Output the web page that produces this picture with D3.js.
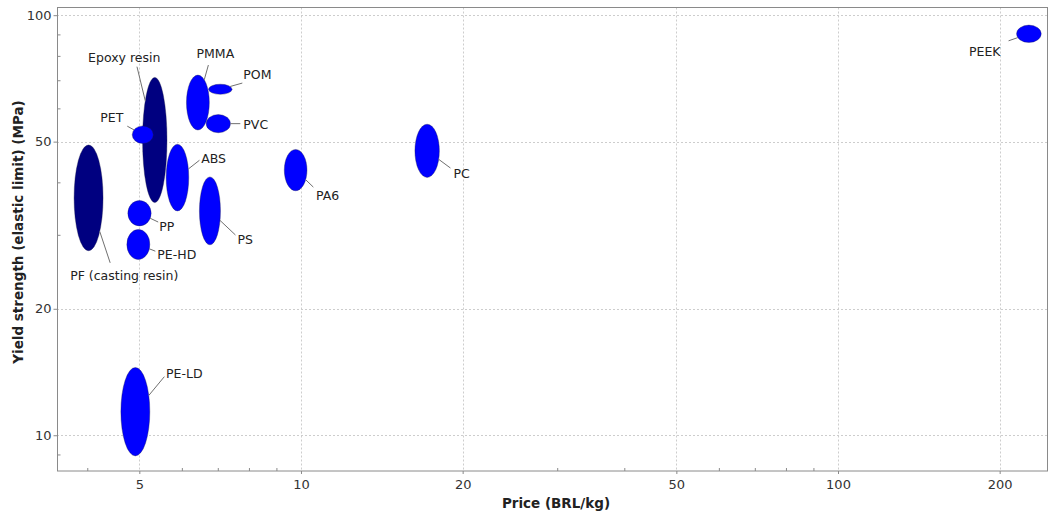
<!DOCTYPE html>
<html>
<head>
<meta charset="utf-8">
<script src="https://cdn.jsdelivr.net/npm/d3@7"></script>
<style>
  body { margin: 0; background: #fff; }
  svg { display: block; font-family: "DejaVu Sans", Verdana, sans-serif; }
</style>
</head>
<body>
<div id="chart"></div>
<script>
// Materials and their property ranges (price in BRL/kg, yield strength in MPa)
const materials = ["PF (casting resin)", "Epoxy resin", "PET", "ABS", "PMMA", "POM", "PVC",
                   "PS", "PP", "PE-HD", "PA6", "PC", "PE-LD", "PEEK"];
const families = ["thermoset", "thermoset", "thermoplastic", "thermoplastic", "thermoplastic",
                  "thermoplastic", "thermoplastic", "thermoplastic", "thermoplastic", "thermoplastic",
                  "thermoplastic", "thermoplastic", "thermoplastic", "thermoplastic"];
const priceLow     = [3.78, 5.07, 4.85, 5.61, 6.12, 6.73, 6.66, 6.47, 4.76, 4.74, 9.31, 16.3, 4.62, 215];
const priceHigh    = [4.28, 5.63, 5.31, 6.18, 6.75, 7.44, 7.39, 7.08, 5.26, 5.23, 10.26, 18.1, 5.23, 239];
const strengthLow  = [27.5, 35.8, 49.5, 34.2, 53.3, 64.8, 52.5, 28.4, 31.5, 26.2, 38.2, 41.1, 8.93, 86.1];
const strengthHigh = [49.1, 71.1, 54.5, 49.3, 72.0, 68.5, 58.0, 41.2, 36.2, 30.9, 47.9, 55.0, 14.5, 94.7];

// Axis ticks
const xMajorTicks = [5, 10, 20, 50, 100, 200];
const xMinorTicks = [4, 6, 7, 8, 9, 30, 40, 60, 70, 80, 90];
const yMajorTicks = [10, 20, 50, 100];
const yMinorTicks = [9, 30, 40, 60, 70, 80, 90];

// Label placement (pixel offsets from the ellipse centre): leader end, text position, anchor
const labelLayout = {
  "PF (casting resin)": { line: [21.6, 65],    text: [-18.4, 78],  anchor: "start" },
  "Epoxy resin":        { line: [-17.8, -73.3], text: [-30.5, -82], anchor: "middle" },
  "PET":                { line: [-15.5, -8.5],  text: [-19.5, -17.5], anchor: "end" },
  "ABS":                { line: [22, -17.3],    text: [23.7, -19],  anchor: "start" },
  "PMMA":               { line: [10.5, -37.5],  text: [17.5, -48.5], anchor: "middle" },
  "POM":                { line: [22, -6.2],     text: [23, -14.2],  anchor: "start" },
  "PVC":                { line: [22, 0],        text: [25, 0.5],    anchor: "start" },
  "PS":                 { line: [25.5, 24.1],   text: [27.5, 28.4], anchor: "start" },
  "PP":                 { line: [18.7, 8.8],    text: [19.7, 13.8], anchor: "start" },
  "PE-HD":              { line: [17, 6.7],      text: [19, 9.7],    anchor: "start" },
  "PA6":                { line: [17.7, 17],     text: [20.4, 26],   anchor: "start" },
  "PC":                 { line: [23.3, 17.2],   text: [26.3, 23.2], anchor: "start" },
  "PE-LD":              { line: [29, -35],      text: [30.7, -38.4], anchor: "start" },
  "PEEK":               { line: [-20.3, 7],     text: [-28.3, 18],  anchor: "end" }
};

const width = 1048, height = 514;
const plot = { left: 57, right: 1047, top: 7.5, bottom: 471 };

const svg = d3.select("#chart")
  .append("svg")
    .attr("width", width)
    .attr("height", height);

const x = d3.scaleLog()
  .domain([3.513, 245])
  .range([plot.left, plot.right]);
const y = d3.scaleLog()
  .domain([8.22, 104.3])
  .range([plot.bottom, plot.top]);

// Grid lines
const grid = svg.append("g")
  .attr("stroke", "#cdcdcd")
  .attr("stroke-width", 1)
  .attr("stroke-dasharray", "2,2");
grid.selectAll(".gx")
  .data(xMajorTicks)
  .enter().append("line")
    .attr("x1", d => Math.round(x(d)) + 0.5)
    .attr("x2", d => Math.round(x(d)) + 0.5)
    .attr("y1", plot.top)
    .attr("y2", plot.bottom);
grid.selectAll(".gy")
  .data(yMajorTicks)
  .enter().append("line")
    .attr("y1", d => Math.round(y(d)) + 0.5)
    .attr("y2", d => Math.round(y(d)) + 0.5)
    .attr("x1", plot.left)
    .attr("x2", plot.right);

// Frame around the plot
svg.append("rect")
  .attr("x", plot.left + 0.5)
  .attr("y", plot.top)
  .attr("width", plot.right - plot.left)
  .attr("height", plot.bottom - plot.top)
  .attr("fill", "none")
  .attr("stroke", "#8a8a8a");

// X axis: major ticks outside, minor ticks inside
const xAxis = svg.append("g")
  .attr("transform", "translate(0," + plot.bottom + ")")
  .call(d3.axisBottom(x).tickValues(xMajorTicks).tickSize(3).tickPadding(6).tickFormat(d3.format("d")));
const xMinor = svg.append("g")
  .attr("transform", "translate(0," + plot.bottom + ")")
  .call(d3.axisBottom(x).tickValues(xMinorTicks).tickSize(-3).tickFormat(""));

// Y axis
const yAxis = svg.append("g")
  .attr("transform", "translate(" + (plot.left + 0.5) + ",0)")
  .call(d3.axisLeft(y).tickValues(yMajorTicks).tickSize(4).tickPadding(2).tickFormat(d3.format("d")));
const yMinor = svg.append("g")
  .attr("transform", "translate(" + (plot.left + 0.5) + ",0)")
  .call(d3.axisLeft(y).tickValues(yMinorTicks).tickSize(-3).tickFormat(""));

[xAxis, xMinor, yAxis, yMinor].forEach(g => {
  g.select(".domain").remove();
  g.selectAll("line").attr("stroke", "#8a8a8a");
  g.selectAll("text")
    .attr("fill", "#333")
    .style("font-family", "'DejaVu Sans', sans-serif")
    .style("font-size", "13px");
});

// Axis titles
svg.append("text")
  .attr("x", 556)
  .attr("y", 508)
  .attr("text-anchor", "middle")
  .attr("font-weight", "bold")
  .attr("font-size", "13.5px")
  .attr("fill", "#222")
  .text("Price (BRL/kg)");
svg.append("text")
  .attr("transform", "translate(23,232) rotate(-90)")
  .attr("text-anchor", "middle")
  .attr("font-weight", "bold")
  .attr("font-size", "13.5px")
  .attr("fill", "#222")
  .text("Yield strength (elastic limit) (MPa)");

// Build records from the arrays
const records = materials.map((name, i) => {
  const x0 = x(priceLow[i]), x1 = x(priceHigh[i]);
  const y0 = y(strengthHigh[i]), y1 = y(strengthLow[i]);
  return {
    name: name,
    family: families[i],
    cx: (x0 + x1) / 2,
    cy: (y0 + y1) / 2,
    rx: (x1 - x0) / 2,
    ry: (y1 - y0) / 2
  };
});

const color = d3.scaleOrdinal()
  .domain(["thermoset", "thermoplastic"])
  .range(["#000080", "#0000ff"]);

// Bubbles
svg.append("g")
  .selectAll("ellipse")
  .data(records)
  .enter()
  .append("ellipse")
    .attr("cx", d => d.cx)
    .attr("cy", d => d.cy)
    .attr("rx", d => d.rx)
    .attr("ry", d => d.ry)
    .attr("fill", d => color(d.family))
    .attr("stroke", "#1a1a4a")
    .attr("stroke-opacity", 0.6)
    .attr("stroke-width", 0.6);

// Leader lines: from the ellipse edge towards the label
const labels = svg.append("g");
records.forEach(d => {
  const lay = labelLayout[d.name];
  const dx = lay.line[0], dy = lay.line[1];
  const t = 1 / Math.sqrt((dx / d.rx) ** 2 + (dy / d.ry) ** 2);
  labels.append("line")
    .attr("x1", d.cx + dx * t)
    .attr("y1", d.cy + dy * t)
    .attr("x2", d.cx + dx)
    .attr("y2", d.cy + dy)
    .attr("stroke", "#707070")
    .attr("stroke-width", 1);
  labels.append("text")
    .attr("x", d.cx + lay.text[0])
    .attr("y", d.cy + lay.text[1])
    .attr("dy", "0.35em")
    .attr("text-anchor", lay.anchor)
    .attr("font-size", "12.5px")
    .attr("fill", "#222")
    .text(d.name);
});
</script>
</body>
</html>
